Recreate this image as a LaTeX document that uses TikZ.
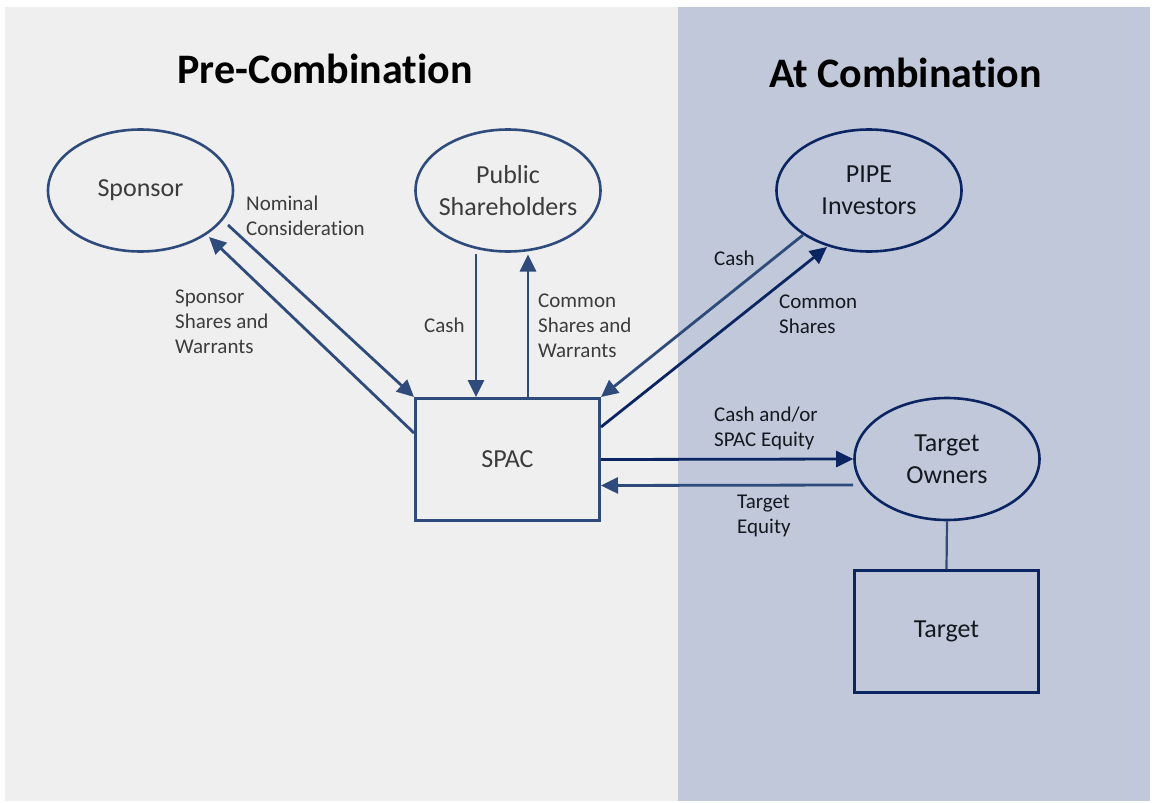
\documentclass[tikz,border=0pt]{standalone}
\usepackage{fontspec}
\setmainfont{Carlito}[Ligatures=NoCommon]
\usetikzlibrary{arrows.meta,shapes.geometric,calc}

\definecolor{panelL}{HTML}{EFEFEF}
\definecolor{panelR}{HTML}{C1C8D9}
\definecolor{lineL}{HTML}{2F4B7C}
\definecolor{lineR}{HTML}{0B2562}
\definecolor{textL}{HTML}{3C3C3C}
\definecolor{textR}{HTML}{14181F}

\tikzset{
  ovalL/.style={ellipse, draw=lineL, line width=2.6pt, minimum width=185pt,
    minimum height=122pt, inner xsep=-8pt, inner ysep=0pt, align=center,
    font=\fontsize{26}{32}\selectfont, text=textL},
  ovalR/.style={ovalL, draw=lineR, text=textR},
  boxL/.style={rectangle, draw=lineL, line width=3pt, minimum width=184pt,
    minimum height=122pt, inner sep=0pt, font=\fontsize{26}{32}\selectfont, text=textL},
  boxR/.style={boxL, draw=lineR, text=textR},
  arrL/.style={draw=lineL, line width=2.8pt, -{Triangle[length=17pt,width=16pt]}},
  arrR/.style={arrL, draw=lineR},
  linkR/.style={draw=lineL, line width=2.2pt},
  % labels are placed by the baseline of their last line
  lblL/.style={anchor=base west, align=left, inner sep=0pt,
    font=\fontsize{21}{25}\selectfont, text=textL},
  lblR/.style={lblL, text=textR},
  heading/.style={anchor=base, inner sep=0pt, text=black,
    font=\fontsize{42}{50}\selectfont\bfseries},
}

\begin{document}
\begin{tikzpicture}[x=1pt,y=-1pt]
\useasboundingbox (0,0) rectangle (1152,803);
% page and the two phase panels
\fill[white] (0,0) rectangle (1152,803);
\fill[panelL] (5,7) rectangle (678,801);
\fill[panelR] (678,7) rectangle (1150,801);

% headings
\node[heading] (hpre) at (325,83) {Pre-Combination};
\node[heading] (hat) at (905.5,87) {At Combination};

% parties
\node[ovalL] (spon) at (140.5,190.5) {Sponsor};
\node[ovalL] (pub) at (508,190.5) {Public\\Shareholders};
\node[ovalR] (pipe) at (869,190.5) {PIPE\\Investors};
\node[ovalR] (own) at (947,459) {Target\\Owners};
\node[boxL] (spac) at (507.5,459.5) {SPAC};
\node[boxR] (tgt) at (946.5,631.5) {Target};

% sponsor flows
\draw[arrL] ($(spon.center)+(87.5,34.5)$) -- (spac.north west);
\draw[arrL] ($(spac.north west)+(0,36)$) -- ($(spon.center)+(68.5,46.5)$);

% public shareholder flows
\draw[arrL] ($(pub.center)+(-32,63.5)$) -- ($(spac.north west)+(62,0)$);
\draw[arrL] ($(spac.north west)+(114,0)$) -- ($(pub.center)+(20,64)$);

% PIPE flows
\draw[arrL] ($(pipe.center)+(-66,44.5)$) -- (spac.north east);
\draw[arrR] ($(spac.north east)+(0,30)$) -- ($(pipe.center)+(-42,56.5)$);

% target owner flows
\draw[arrR] (spac.east) -- (own.west);
\draw[arrL] ($(own.west)+(0,26)$) -- ($(spac.east)+(0,26)$);
\draw[linkR] (own.south) -- (tgt.north);

% flow labels
\node[lblL] (lnom) at (246,235) {Nominal\\Consideration};
\node[lblL] (lsss) at (175,353) {Sponsor\\Shares and\\Warrants};
\node[lblL] (lcash) at (424,332) {Cash};
\node[lblL] (lcsw) at (538,357) {Common\\Shares and\\Warrants};
\node[lblR] (lpcash) at (714,265) {Cash};
\node[lblR] (lcs) at (779,333) {Common\\Shares};
\node[lblR] (lcae) at (714,446) {Cash and/or\\SPAC Equity};
\node[lblR] (lte) at (737,533) {Target\\Equity};
\end{tikzpicture}
\end{document}
